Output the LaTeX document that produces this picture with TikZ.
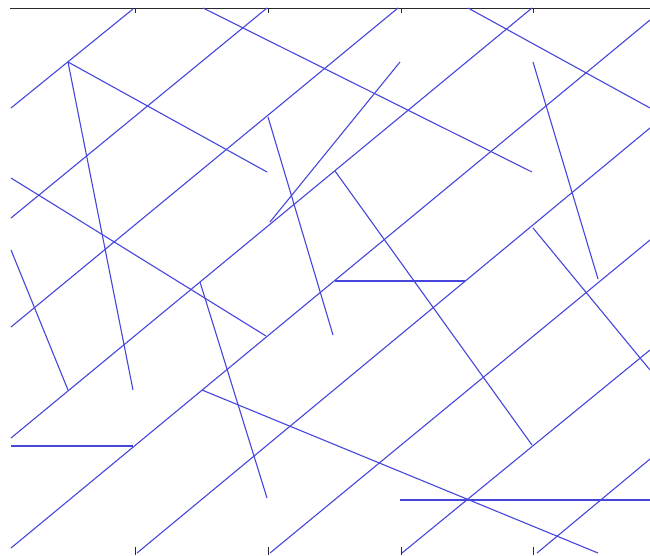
\documentclass[tikz,border=0pt]{standalone}
\begin{document}
\begin{tikzpicture}[x=1pt,y=-1pt,
  seg/.style={draw={rgb,255:red,70;green,70;blue,220},line width=1.1pt},
  axisline/.style={draw={rgb,255:red,40;green,40;blue,40},line width=1pt}]
\useasboundingbox[fill=white] (0,0) rectangle (650,555);
% axis
\draw[axisline] (10,8) -- (650,8);
\foreach \t in {135,268,401,533}{
  \draw[axisline,line width=0.7pt] (\t,8) -- (\t,13);
  \draw[axisline,line width=0.7pt] (\t,555) -- (\t,547);
}
% long parallel lines
\draw[seg] (11,108) -- (133,9);
\draw[seg] (11,218) -- (267,8);
\draw[seg] (11,327) -- (398,8);
\draw[seg] (11,438) -- (532,8);
\draw[seg] (11,548) -- (650,20);
\draw[seg] (137,553) -- (650,128);
\draw[seg] (270,553) -- (650,240);
\draw[seg] (402,553) -- (650,350);
\draw[seg] (537,553) -- (650,459);
% other segments
\draw[seg] (68,62) -- (267,172);
\draw[seg] (68,62) -- (133,390);
\draw[seg] (203,8) -- (532,172);
\draw[seg] (468,8) -- (650,108);
\draw[seg] (11,178) -- (266,336);
\draw[seg] (11,250) -- (68,390);
\draw[seg] (268,117) -- (333,335);
\draw[seg] (270,222) -- (400,62);
\draw[seg] (335,171) -- (532,445);
\draw[seg] (335,281) -- (465,281);
\draw[seg] (533,62) -- (598,279);
\draw[seg] (533,228) -- (650,370);
\draw[seg] (200,282) -- (267,498);
\draw[seg] (202,390) -- (598,553);
\draw[seg] (11,446) -- (133,446);
\draw[seg] (400,500) -- (650,500);
\end{tikzpicture}
\end{document}
